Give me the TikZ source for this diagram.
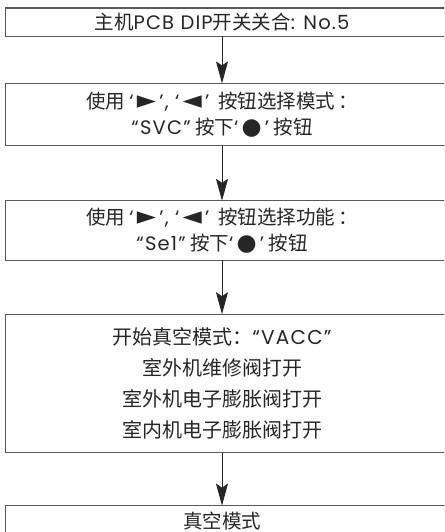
\documentclass[tikz,border=0pt]{standalone}
\usepackage{fontspec}
\setmainfont{Noto Sans CJK SC}
\newfontfamily\enfont[LetterSpace=6]{Poppins}
\newfontfamily\symfont{DejaVu Sans}
\newcommand{\enf}[1]{{\enfont #1}}
\newcommand{\trif}[1]{{\symfont\fontsize{25}{24}\selectfont #1}}
\newcommand{\dotf}{{\symfont\fontsize{23}{24}\selectfont ●}}
\usetikzlibrary{arrows.meta,positioning}

\begin{document}
\begin{tikzpicture}[
  x=1pt, y=1pt,
  font=\fontsize{19.5}{26}\selectfont,
  stepbox/.style={align=center, minimum width=432pt, inner sep=0pt, text=black!85},
  frame/.style={draw=black!65, line width=1.1pt},
  arr/.style={-{Stealth[length=22pt, width=12pt, inset=4pt]}, line width=0.9pt, black!85}
]
\clip (0,0) rectangle (444,-532);
\node[stepbox, minimum height=28pt, anchor=north] (b1) at (222,-8)
  {主机\enf{PCB DIP}开关关合\enf{: No.5}};
\node[stepbox, minimum height=62pt, below=47pt of b1] (b2)
  {使用\ \enf{‘\,}\trif{►}\enf{\,’,\ ‘\,}\trif{◄}\enf{\,’}\ \ 按钮选择模式\,：\\
   \enf{“SVC”}\ 按下\enf{‘\,}\dotf\enf{\,’}\ 按钮};
\node[stepbox, minimum height=59pt, below=55pt of b2] (b3)
  {使用\ \enf{‘\,}\trif{►}\enf{\,’,\ ‘\,}\trif{◄}\enf{\,’}\ \ 按钮选择功能\,：\\
   \enf{“Se1”}\ 按下\enf{‘\,}\dotf\enf{\,’}\ 按钮};
\node[stepbox, minimum height=138pt, below=54pt of b3, font=\fontsize{20}{31}\selectfont] (b4)
  {开始真空模式：\enf{“VACC”}\\
   室外机维修阀打开\\
   室外机电子膨胀阀打开\\
   室内机电子膨胀阀打开};
\node[stepbox, minimum height=30pt, below=53pt of b4] (b5) {真空模式};
% boxes run off the right edge
\foreach \b in {b1,b2,b3,b4,b5}
  \draw[frame] (\b.north west) rectangle ([xshift=12pt]\b.south east);
\draw[arr] (b1) -- (b2);
\draw[arr] (b2) -- (b3);
\draw[arr] (b3) -- (b4);
\draw[arr] (b4) -- (b5);
\end{tikzpicture}
\end{document}
